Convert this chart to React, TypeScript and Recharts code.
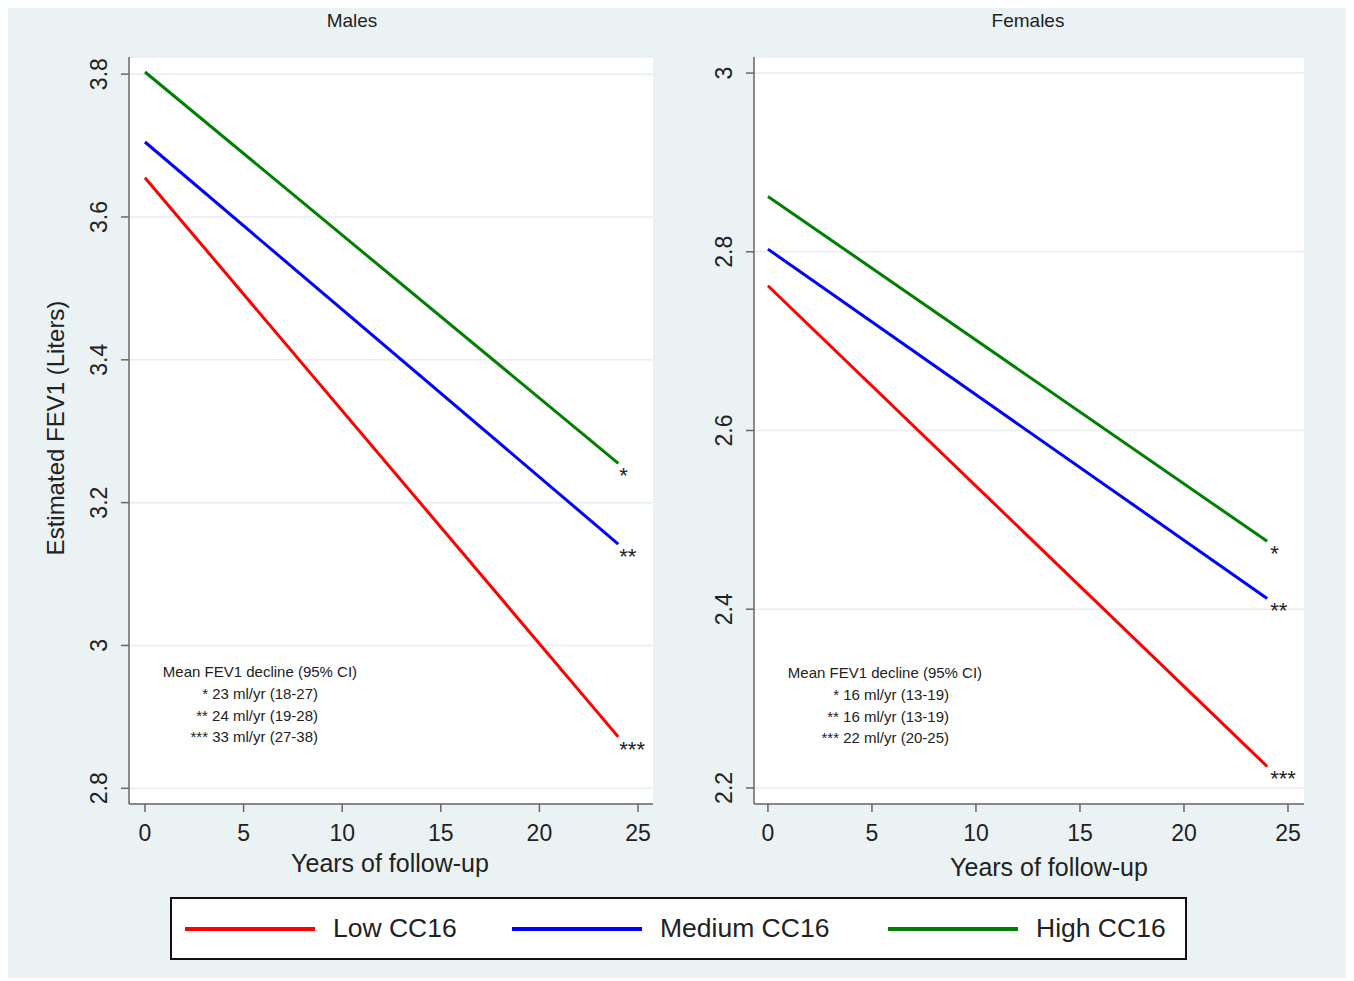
import { CartesianGrid, Line, LineChart, XAxis, YAxis } from "recharts";

// follow-up years at the start and end of each fitted line
const years = [0, 24];

const malesLow = [3.655, 2.872];
const malesMedium = [3.705, 3.142];
const malesHigh = [3.803, 3.255];

const femalesLow = [2.762, 2.224];
const femalesMedium = [2.803, 2.412];
const femalesHigh = [2.862, 2.476];

const xTicks = [0, 5, 10, 15, 20, 25];
const malesYTicks = [2.8, 3, 3.2, 3.4, 3.6, 3.8];
const femalesYTicks = [2.2, 2.4, 2.6, 2.8, 3];

const seriesNames = ["Low CC16", "Medium CC16", "High CC16"];
const seriesColors = ["#ff0000", "#0000ff", "#008000"];
const seriesStars = ["***", "**", "*"];

const notesHeader = "Mean FEV1 decline (95% CI)";
const malesNotes = ["* 23 ml/yr (18-27)", "** 24 ml/yr (19-28)", "*** 33 ml/yr (27-38)"];
const femalesNotes = ["* 16 ml/yr (13-19)", "** 16 ml/yr (13-19)", "*** 22 ml/yr (20-25)"];

const FONT = "'Liberation Sans', Arial, Helvetica, sans-serif";
const AXIS = "#666666";
const TEXT = "#222222";

const toRows = (ys: number[]) => years.map((x, i) => ({ x, y: ys[i] }));

type PanelProps = {
  title: string;
  series: number[][];
  yTicks: number[];
  yDomain: [number, number];
  xDomain: [number, number];
  width: number;
  yAxisWidth: number;
  marginRight: number;
  notes: string[];
  notesX: number;
  notesRight: number;
  notesY: number;
  titleX: number;
  xTitleX: number;
  xTitleY: number;
  starDx: number;
  starDy: number;
  yTitle?: string;
};

const HEIGHT = 880;

function Panel(p: PanelProps) {
  const xTick = (props: any) => (
    <text x={props.x} y={props.y + 29} textAnchor="middle" fontSize={23} fontFamily={FONT} fill={TEXT}>
      {props.payload.value}
    </text>
  );
  const yTick = (props: any) => {
    const bx = props.x - 14;
    return (
      <text
        x={bx}
        y={props.y}
        transform={`rotate(-90 ${bx} ${props.y})`}
        textAnchor="middle"
        fontSize={23}
        fontFamily={FONT}
        fill={TEXT}
      >
        {String(props.payload.value)}
      </text>
    );
  };

  return (
    <LineChart
      width={p.width}
      height={HEIGHT}
      margin={{ top: 49, right: p.marginRight, left: 0, bottom: 0 }}
    >
      <CartesianGrid vertical={false} fill="#ffffff" stroke="#e6eef0" strokeWidth={1.5} />
      <XAxis
        type="number"
        dataKey="x"
        domain={p.xDomain}
        ticks={xTicks}
        allowDataOverflow
        height={HEIGHT - 49 - 747}
        tickSize={8}
        tickMargin={0}
        stroke={AXIS}
        strokeWidth={1.5}
        tick={xTick}
      />
      <YAxis
        type="number"
        domain={p.yDomain}
        ticks={p.yTicks}
        allowDataOverflow
        width={p.yAxisWidth}
        tickSize={8}
        tickMargin={0}
        stroke={AXIS}
        strokeWidth={1.5}
        tick={yTick}
      />
      {p.series.map((ys, i) => (
        <Line
          key={seriesNames[i]}
          data={toRows(ys)}
          dataKey="y"
          type="linear"
          stroke={seriesColors[i]}
          strokeWidth={3}
          dot={false}
          isAnimationActive={false}
          label={(lp: any) =>
            lp.index === years.length - 1 ? (
              <text
                key={`star-${i}`}
                x={lp.x + p.starDx}
                y={lp.y + p.starDy}
                fontSize={22}
                fontFamily={FONT}
                fill={TEXT}
              >
                {seriesStars[i]}
              </text>
            ) : null
          }
        />
      ))}
      <text x={p.titleX} y={19} textAnchor="middle" fontSize={19} fontFamily={FONT} fill={TEXT}>
        {p.title}
      </text>
      <text x={p.xTitleX} y={p.xTitleY} textAnchor="middle" fontSize={25} fontFamily={FONT} fill={TEXT}>
        Years of follow-up
      </text>
      {p.yTitle ? (
        <text
          x={56}
          y={420}
          transform="rotate(-90 56 420)"
          textAnchor="middle"
          fontSize={24}
          fontFamily={FONT}
          fill={TEXT}
        >
          {p.yTitle}
        </text>
      ) : null}
      <text x={p.notesX} y={p.notesY} textAnchor="middle" fontSize={15} fontFamily={FONT} fill={TEXT}>
        {notesHeader}
      </text>
      {p.notes.map((n, i) => (
        <text
          key={n + i}
          x={p.notesRight}
          y={p.notesY + 22 + i * 21.5}
          textAnchor="end"
          fontSize={15}
          fontFamily={FONT}
          fill={TEXT}
        >
          {n}
        </text>
      ))}
    </LineChart>
  );
}

function LegendBox() {
  return (
    <div
      style={{
        position: "absolute",
        left: 162,
        top: 889,
        width: 1013,
        height: 59,
        border: "2px solid #111",
        background: "#ffffff",
        fontFamily: FONT,
      }}
    >
      {seriesNames.map((name, i) => (
        <div
          key={name}
          style={{
            position: "absolute",
            left: [13, 340, 716][i],
            top: 0,
            height: 59,
            display: "flex",
            alignItems: "center",
          }}
        >
          <div style={{ width: 130, height: 4, background: seriesColors[i], marginRight: 18 }} />
          <span style={{ fontSize: 26.5, color: TEXT }}>{name}</span>
        </div>
      ))}
    </div>
  );
}

export default function App() {
  return (
    <div
      style={{
        position: "relative",
        width: 1342,
        height: 970,
        background: "#eaf2f3",
        overflow: "hidden",
      }}
    >
      <div style={{ position: "absolute", left: 0, top: 0 }}>
        <Panel
          title="Males"
          series={[malesLow, malesMedium, malesHigh]}
          yTicks={malesYTicks}
          yDomain={[2.778, 3.824]}
          xDomain={[-0.81, 25.76]}
          width={660}
          yAxisWidth={121}
          marginRight={15}
          notes={malesNotes}
          notesX={252}
          notesRight={310}
          notesY={669}
          titleX={344}
          xTitleX={382}
          xTitleY={864}
          starDx={1}
          starDy={20}
          yTitle="Estimated FEV1 (Liters)"
        />
      </div>
      <div style={{ position: "absolute", left: 660, top: 0 }}>
        <Panel
          title="Females"
          series={[femalesLow, femalesMedium, femalesHigh]}
          yTicks={femalesYTicks}
          yDomain={[2.182, 3.018]}
          xDomain={[-0.67, 25.77]}
          width={680}
          yAxisWidth={86}
          marginRight={44}
          notes={femalesNotes}
          notesX={217}
          notesRight={281}
          notesY={670}
          titleX={360}
          xTitleX={381}
          xTitleY={868}
          starDx={3}
          starDy={20}
        />
      </div>
      <LegendBox />
    </div>
  );
}
